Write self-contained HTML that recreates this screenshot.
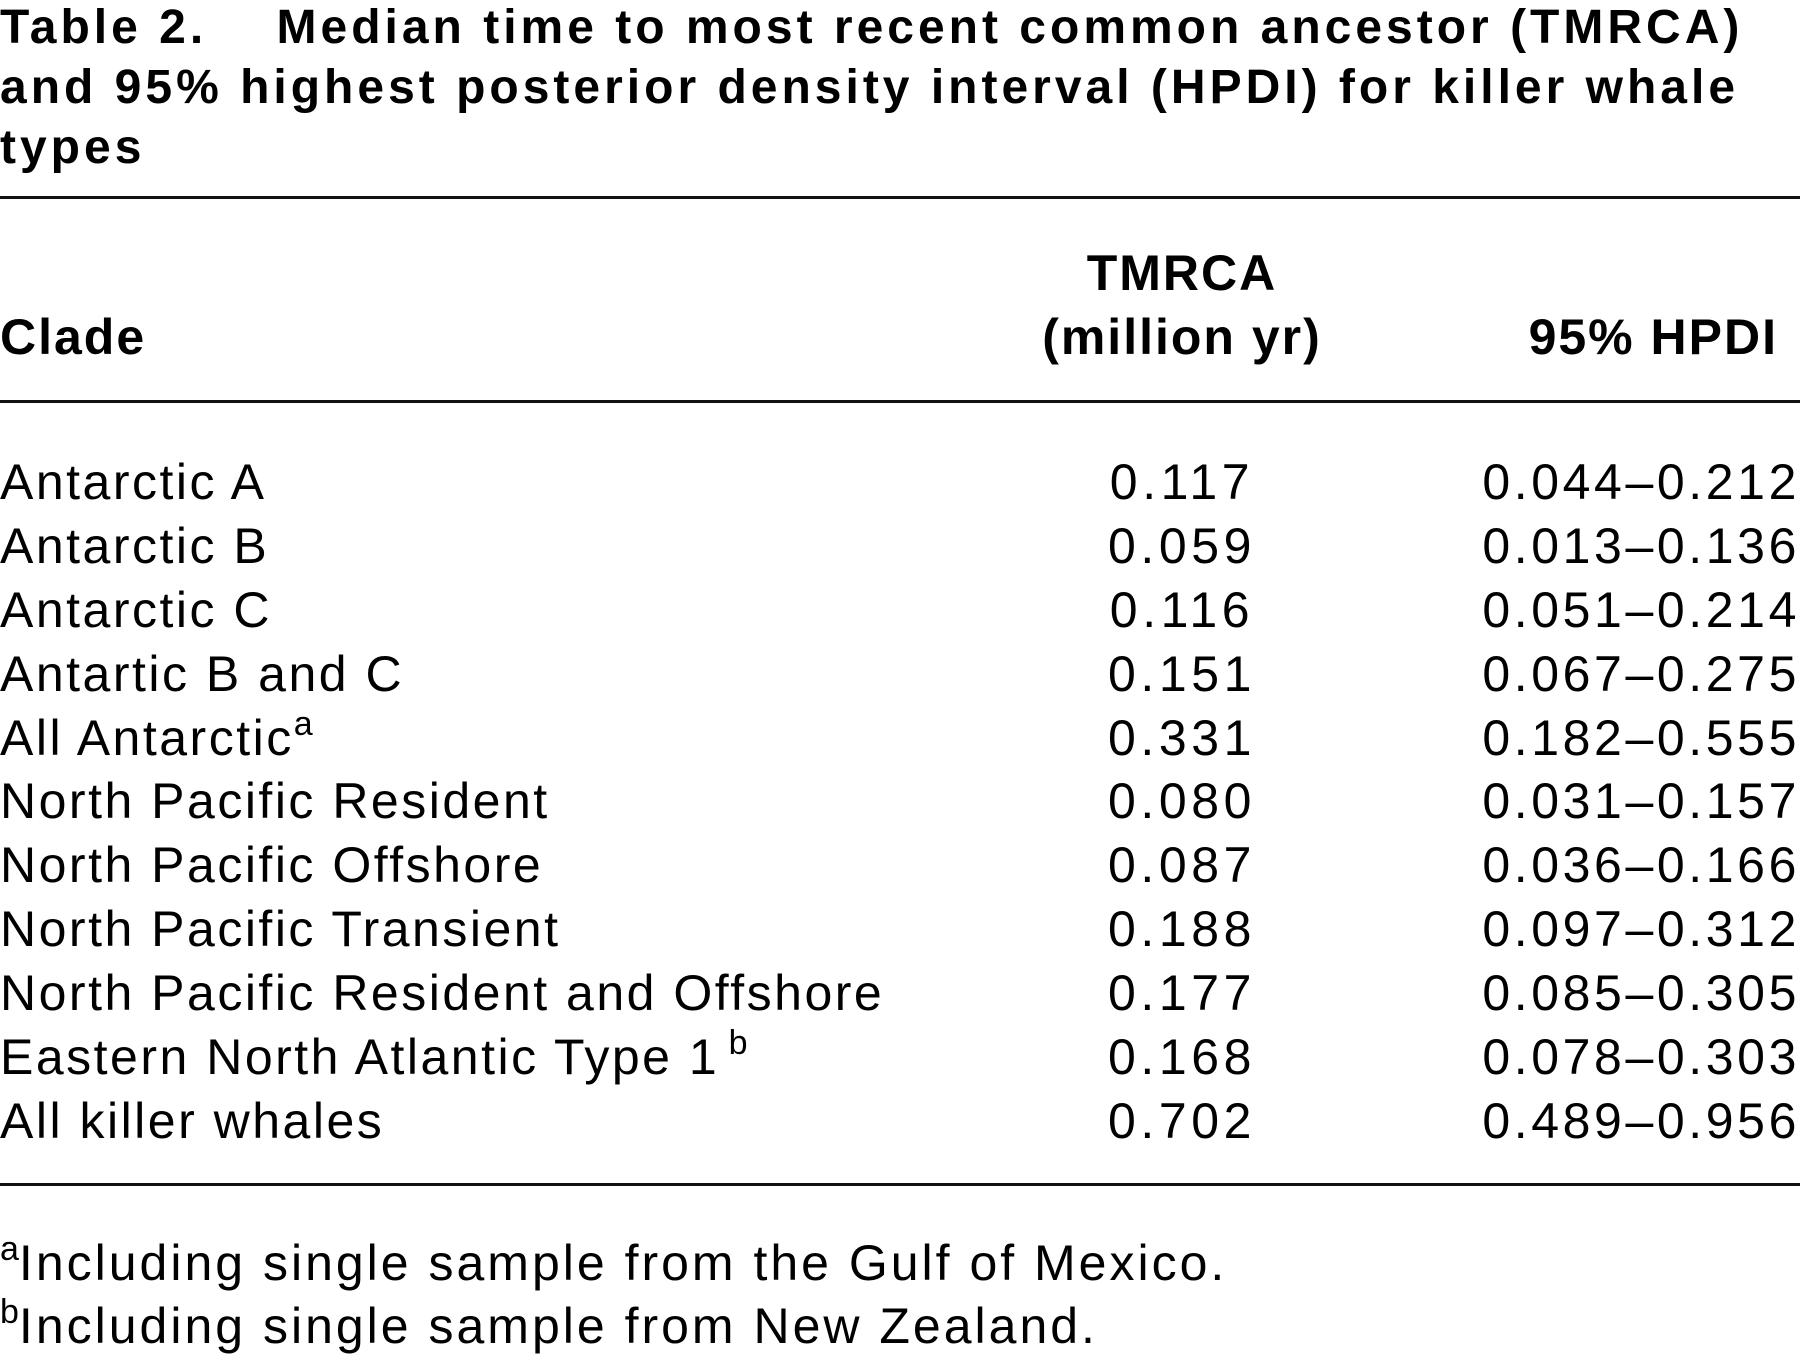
<!DOCTYPE html>
<html><head><meta charset="utf-8"><style>
body{margin:0;width:1800px;height:1357px;background:#fff;position:relative;overflow:hidden;font-family:"Liberation Sans",sans-serif;color:#000}
.t{position:absolute;white-space:nowrap;font-size:50px;line-height:1;letter-spacing:2.5px}
.b{font-weight:bold;letter-spacing:2px}
.r{position:absolute;left:0;width:1800px;height:3px;background:#111}
.c2{position:absolute;width:300px;text-align:center;left:1032px}
.n{letter-spacing:4.6px}
.c3{position:absolute;right:0px;text-align:right;letter-spacing:3.6px}
.ti{font-size:48px;letter-spacing:4px}
.f{letter-spacing:3px}
sup{font-size:34px;vertical-align:20px;line-height:0;letter-spacing:0}
</style></head><body>
<div class="t b ti" style="left:0;top:4px">Table 2.&nbsp;&nbsp;&nbsp; Median time to most recent common ancestor (TMRCA)</div>
<div class="t b ti" style="left:0;top:64px">and 95% highest posterior density interval (HPDI) for killer whale</div>
<div class="t b ti" style="left:0;top:124px">types</div>
<div class="r" style="top:196px"></div>
<div class="t b c2" style="top:248px">TMRCA</div>
<div class="t b c2" style="top:312px">(million yr)</div>
<div class="t b" style="left:0;top:312px">Clade</div>
<div class="t b" style="right:22px;top:312px;text-align:right">95% HPDI</div>
<div class="r" style="top:400px"></div>
<div class="t" style="left:0;top:457px">Antarctic A</div><div class="t c2 n" style="top:457px">0.117</div><div class="t c3" style="top:457px">0.044–0.212</div>
<div class="t" style="left:0;top:521px">Antarctic B</div><div class="t c2 n" style="top:521px">0.059</div><div class="t c3" style="top:521px">0.013–0.136</div>
<div class="t" style="left:0;top:585px">Antarctic C</div><div class="t c2 n" style="top:585px">0.116</div><div class="t c3" style="top:585px">0.051–0.214</div>
<div class="t" style="left:0;top:649px">Antartic B and C</div><div class="t c2 n" style="top:649px">0.151</div><div class="t c3" style="top:649px">0.067–0.275</div>
<div class="t" style="left:0;top:713px">All Antarctic<sup>a</sup></div><div class="t c2 n" style="top:713px">0.331</div><div class="t c3" style="top:713px">0.182–0.555</div>
<div class="t" style="left:0;top:776px">North Pacific Resident</div><div class="t c2 n" style="top:776px">0.080</div><div class="t c3" style="top:776px">0.031–0.157</div>
<div class="t" style="left:0;top:840px">North Pacific Offshore</div><div class="t c2 n" style="top:840px">0.087</div><div class="t c3" style="top:840px">0.036–0.166</div>
<div class="t" style="left:0;top:904px">North Pacific Transient</div><div class="t c2 n" style="top:904px">0.188</div><div class="t c3" style="top:904px">0.097–0.312</div>
<div class="t" style="left:0;top:968px">North Pacific Resident and Offshore</div><div class="t c2 n" style="top:968px">0.177</div><div class="t c3" style="top:968px">0.085–0.305</div>
<div class="t" style="left:0;top:1032px">Eastern North Atlantic Type 1<sup>&nbsp;b</sup></div><div class="t c2 n" style="top:1032px">0.168</div><div class="t c3" style="top:1032px">0.078–0.303</div>
<div class="t" style="left:0;top:1096px">All killer whales</div><div class="t c2 n" style="top:1096px">0.702</div><div class="t c3" style="top:1096px">0.489–0.956</div>
<div class="r" style="top:1183px"></div>
<div class="t f" style="left:0;top:1238px"><sup>a</sup>Including single sample from the Gulf of Mexico.</div>
<div class="t f" style="left:0;top:1301px"><sup>b</sup>Including single sample from New Zealand.</div>
</body></html>
